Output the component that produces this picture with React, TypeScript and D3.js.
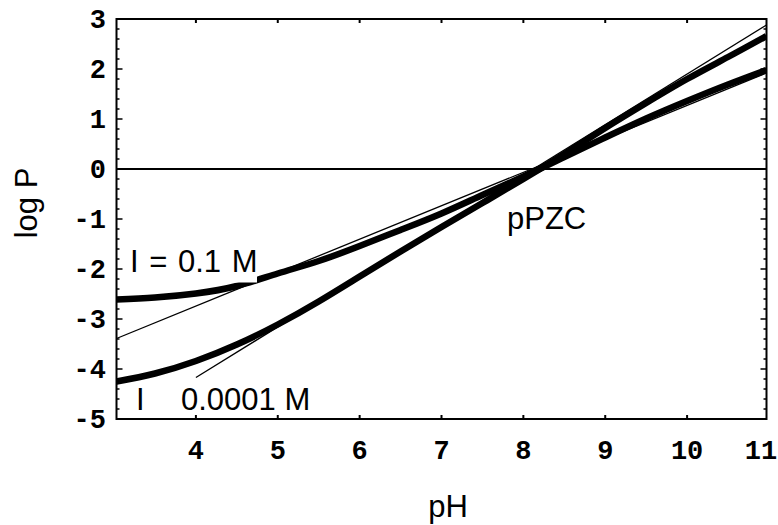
import React from "react";
import * as d3 from "d3";

// pH grid on which the two thick curves were read
const phGrid = [3.03, 3.5, 4, 4.5, 5, 5.5, 6, 6.5, 7, 7.5, 8, 8.5, 9, 9.5, 10, 10.5, 10.97];
// log P, I = 0.1 M
const logPHighI = [-2.61, -2.57, -2.49, -2.34, -2.09, -1.84, -1.54, -1.22, -0.89, -0.52, -0.15, 0.24, 0.63, 1.01, 1.36, 1.69, 1.98];
// log P, I = 0.0001 M
const logPLowI = [-4.25, -4.09, -3.84, -3.51, -3.11, -2.65, -2.15, -1.65, -1.16, -0.68, -0.2, 0.3, 0.82, 1.32, 1.8, 2.24, 2.66];
// thin reference lines (end points)
const lineAPh = [3.03, 10.97];
const lineAVal = [-3.39, 1.92];
const lineBPh = [4.0, 10.97];
const lineBVal = [-4.17, 2.88];

const xTickValues = [4, 5, 6, 7, 8, 9, 10, 11];
const yTickValues = [-5, -4, -3, -2, -1, 0, 1, 2, 3];
const xTickLabels = ["4", "5", "6", "7", "8", "9", "10", "11"];
const yTickLabels = ["-5", "-4", "-3", "-2", "-1", "0", "1", "2", "3"];

export default function App() {
  const W = 778;
  const H = 525;
  const left = 116.5, right = 766.5, top = 19, bottom = 419;
  const x = d3.scaleLinear().domain([3.03, 10.97]).range([left, right]);
  const y = d3.scaleLinear().domain([-5, 3]).range([bottom, top]);

  const line = d3
    .line<[number, number]>()
    .x((d) => x(d[0]))
    .y((d) => y(d[1]))
    .curve(d3.curveNatural);

  const high = phGrid.map((p, i) => [p, logPHighI[i]] as [number, number]);
  const low = phGrid.map((p, i) => [p, logPLowI[i]] as [number, number]);
  const la = lineAPh.map((p, i) => [p, lineAVal[i]] as [number, number]);
  const lb = lineBPh.map((p, i) => [p, lineBVal[i]] as [number, number]);

  const minorY = d3.range(-5, 3.001, 0.2).map((v) => Math.round(v * 10) / 10);

  const tickFont = "'Liberation Mono', 'Courier New', monospace";
  const labelFont = "'Liberation Sans', Arial, sans-serif";

  return (
    <svg
      width={W}
      height={H}
      viewBox={`0 0 ${W} ${H}`}
      style={{ position: "absolute", left: 0, top: 0, background: "#fff" }}
    >
      <defs>
        <clipPath id="plotClip">
          <rect x={left} y={top} width={right - left} height={bottom - top} />
        </clipPath>
      </defs>
      <rect x={0} y={0} width={W} height={H} fill="#fff" />

      {/* zero line */}
      <line x1={left} x2={right} y1={y(0)} y2={y(0)} stroke="#000" strokeWidth={2} />

      <g clipPath="url(#plotClip)">
        <path d={line(high) || ""} fill="none" stroke="#000" strokeWidth={6.5} strokeLinejoin="round" />
        <path d={line(low) || ""} fill="none" stroke="#000" strokeWidth={6.5} strokeLinejoin="round" />
        <path d={line(la) || ""} fill="none" stroke="#000" strokeWidth={1.3} />
        <path d={line(lb) || ""} fill="none" stroke="#000" strokeWidth={1.3} />
      </g>

      {/* white box behind I = 0.1 M */}
      <rect x={126} y={244} width={131} height={38.5} fill="#fff" />
      <text x={130} y={272} fontFamily={labelFont} fontSize={31} wordSpacing={2} fill="#000">
        I = 0.1 M
      </text>
      <text x={136} y={410} fontFamily={labelFont} fontSize={31} fill="#000">
        I
      </text>
      <text x={181} y={410} fontFamily={labelFont} fontSize={31} fill="#000">
        0.0001 M
      </text>
      <text x={507} y={228.5} fontFamily={labelFont} fontSize={31} fill="#000">
        pPZC
      </text>

      {/* frame */}
      <rect x={left} y={top} width={right - left} height={bottom - top} fill="none" stroke="#000" strokeWidth={2} />

      {/* y ticks (left and right, inward) */}
      {minorY.map((v) => {
        const major = Math.abs(v - Math.round(v)) < 1e-6;
        const len = major ? 6 : 3;
        return (
          <g key={"yt" + v}>
            <line x1={left} x2={left + len} y1={y(v)} y2={y(v)} stroke="#000" strokeWidth={1.5} />
            <line x1={right} x2={right - len} y1={y(v)} y2={y(v)} stroke="#000" strokeWidth={1.5} />
          </g>
        );
      })}
      {/* x ticks (top and bottom, inward) */}
      {xTickValues.slice(0, -1).map((v) => (
        <g key={"xt" + v}>
          <line x1={x(v)} x2={x(v)} y1={bottom} y2={bottom - 4} stroke="#000" strokeWidth={2} />
          <line x1={x(v)} x2={x(v)} y1={top} y2={top + 4} stroke="#000" strokeWidth={2} />
        </g>
      ))}

      {/* tick labels */}
      {xTickValues.map((v, i) => (
        <text
          key={"xl" + v}
          x={Math.min(x(v), 761)}
          y={459}
          textAnchor="middle"
          fontFamily={tickFont}
          fontWeight="bold"
          fontSize={27}
          fill="#000"
        >
          {xTickLabels[i]}
        </text>
      ))}
      {yTickValues.map((v, i) => (
        <text
          key={"yl" + v}
          x={106}
          y={y(v) + 9}
          textAnchor="end"
          fontFamily={tickFont}
          fontWeight="bold"
          fontSize={27}
          fill="#000"
        >
          {yTickLabels[i]}
        </text>
      ))}

      {/* axis titles */}
      <text x={448} y={516.5} textAnchor="middle" fontFamily={labelFont} fontSize={31} fill="#000">
        pH
      </text>
      <text
        transform={`translate(37, 203) rotate(-90)`}
        textAnchor="middle"
        fontFamily={labelFont}
        fontSize={31}
        fill="#000"
      >
        log P
      </text>
    </svg>
  );
}
